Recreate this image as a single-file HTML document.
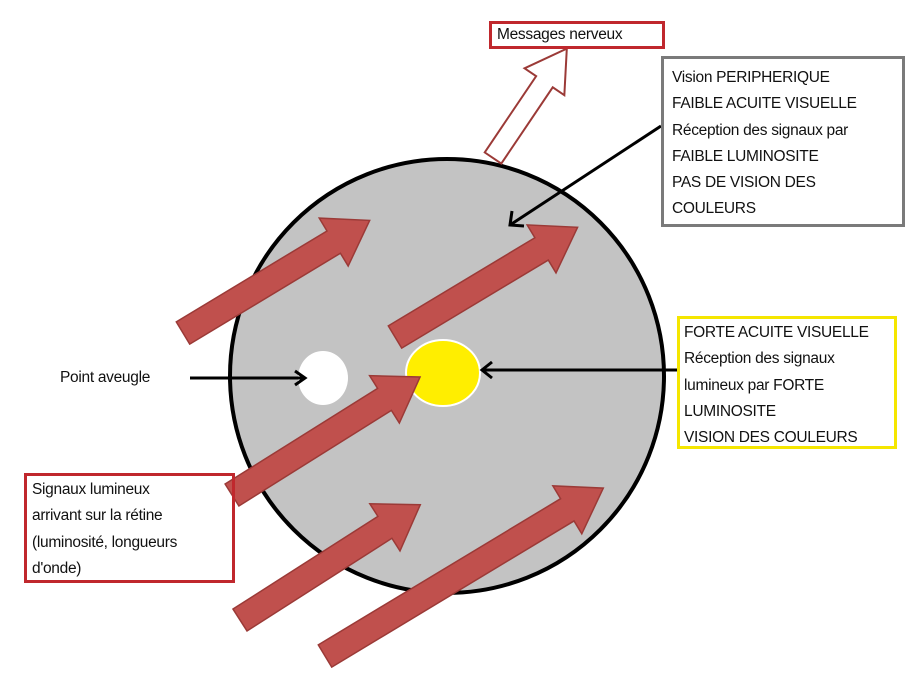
<!DOCTYPE html>
<html><head><style>
body{margin:0;width:912px;height:673px;background:#fff;overflow:hidden;position:relative;font-family:"Liberation Sans",sans-serif;}
.b{position:absolute;box-sizing:border-box;font-size:15.5px;line-height:26.3px;color:#111;letter-spacing:-0.3px;white-space:nowrap}
</style></head><body>
<svg width="912" height="673" style="position:absolute;left:0;top:0">
<ellipse cx="447" cy="376" rx="217" ry="217" fill="#c3c3c3" stroke="#000" stroke-width="4"/>
<g transform="translate(493,158) rotate(-56)">
<polygon points="0,-10 92,-10 92,-24 132,0 92,24 92,10 0,10" fill="#fff" stroke="#9b3a37" stroke-width="2"/>
</g>
<ellipse cx="323" cy="378" rx="25" ry="27" fill="#fff"/>
<ellipse cx="443" cy="373" rx="37" ry="33" fill="#ffee00" stroke="#fff" stroke-width="2"/>
<g fill="#c0504d" stroke="#9b3a37" stroke-width="1.5">
<g transform="translate(183,333) rotate(-31.1)"><polygon points="0,-13 176,-13 176,-28 218,0 176,28 176,13 0,13"/></g>
<g transform="translate(395,337) rotate(-31)"><polygon points="0,-13 171,-13 171,-28 213,0 171,28 171,13 0,13"/></g>
<g transform="translate(232,495) rotate(-32.1)"><polygon points="0,-13 180,-13 180,-28 222,0 180,28 180,13 0,13"/></g>
<g transform="translate(240,620) rotate(-32.6)"><polygon points="0,-13 172,-13 172,-28 214,0 172,28 172,13 0,13"/></g>
<g transform="translate(325,656) rotate(-31.1)"><polygon points="0,-13 283,-13 283,-28 325,0 283,28 283,13 0,13"/></g>
</g>
<g stroke="#000" stroke-width="3" fill="none">
<line x1="190" y1="378" x2="305" y2="378"/>
<polyline points="295,371 305,378 295,385"/>
<line x1="680" y1="370" x2="482" y2="370"/>
<polyline points="492,362 482,370 492,378"/>
<line x1="661" y1="126" x2="510" y2="225"/>
<polyline points="512,211 510,225 524,226"/>
</g>
</svg>
<div class="b" style="left:489px;top:21px;width:176px;height:28px;border:3px solid #c0282d;line-height:22px;padding-left:5px">Messages nerveux</div>
<div class="b" style="left:661px;top:56px;width:244px;height:171px;border:3px solid #7a7a7a;padding:6px 0 0 8px">Vision PERIPHERIQUE<br>FAIBLE ACUITE VISUELLE<br>Réception des signaux par<br>FAIBLE LUMINOSITE<br>PAS DE VISION DES<br>COULEURS</div>
<div class="b" style="left:677px;top:316px;width:220px;height:133px;border:3px solid #f5e600;padding:1px 0 0 4px">FORTE ACUITE VISUELLE<br>Réception des signaux<br>lumineux par FORTE<br>LUMINOSITE<br>VISION DES COULEURS</div>
<div class="b" style="left:24px;top:473px;width:211px;height:110px;border:3px solid #c0282d;padding:1px 0 0 5px">Signaux lumineux<br>arrivant sur la rétine<br>(luminosité, longueurs<br>d'onde)</div>
<div class="b" style="left:60px;top:365px">Point aveugle</div>
</body></html>
